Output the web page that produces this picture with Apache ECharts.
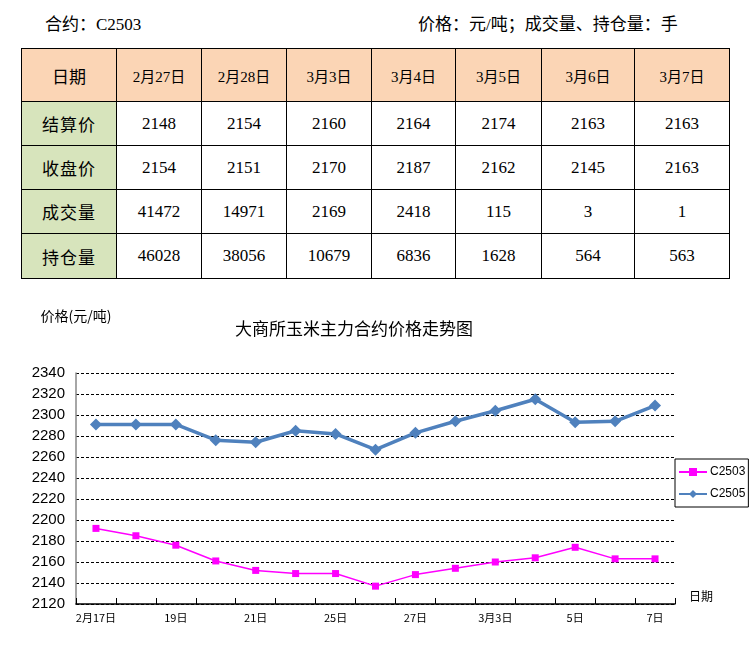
<!DOCTYPE html>
<html>
<head>
<meta charset="utf-8">
<script src="https://cdn.jsdelivr.net/npm/echarts@6/dist/echarts.min.js"></script>
<style>
  html, body { margin: 0; padding: 0; background: #fff; }
  #page { position: relative; width: 753px; height: 663px; overflow: hidden; background: #fff; }
  .hdr { position: absolute; top: 10px; font-family: "Liberation Serif", "Noto Sans CJK SC", serif; font-size: 17px; color: #000; white-space: nowrap; }
  #tbl { position: absolute; left: 21px; top: 48px; border-collapse: collapse; table-layout: fixed;
         font-family: "Liberation Serif", "Noto Sans CJK SC", serif; color: #000; }
  #tbl td { border: 1.5px solid #000; text-align: center; padding: 0; font-size: 17px; }
  #tbl tr.head td { background: #FBD5B5; font-size: 15px; }
  #tbl td.rowname { background: #D7E4BC; font-size: 17px; letter-spacing: 1px; }
  #chart { position: absolute; left: 0; top: 290px; width: 753px; height: 373px; }
</style>
</head>
<body>
<div id="page">
  <div class="hdr" style="left:45px;">合约：C2503</div>
  <div class="hdr" style="left:418px;">价格：元/吨；成交量、持仓量：手</div>
  <table id="tbl"></table>
  <div id="chart"></div>
</div>
<script>
// ---- table data ----
const tableDates = ['2月27日','2月28日','3月3日','3月4日','3月5日','3月6日','3月7日'];
const rowNames = ['日期','结算价','收盘价','成交量','持仓量'];
const settlePrice = [2148, 2154, 2160, 2164, 2174, 2163, 2163];
const closePrice = [2154, 2151, 2170, 2187, 2162, 2145, 2163];
const volume = [41472, 14971, 2169, 2418, 115, 3, 1];
const openInterest = [46028, 38056, 10679, 6836, 1628, 564, 563];

// ---- chart data ----
const categories = ['2月17日','18日','19日','20日','21日','24日','25日','26日','27日','28日','3月3日','4日','5日','6日','7日'];
const c2503 = [2192, 2185, 2176, 2161, 2152, 2149, 2149, 2137, 2148, 2154, 2160, 2164, 2174, 2163, 2163];
const c2505 = [2291, 2291, 2291, 2276, 2274, 2285, 2282, 2267, 2283, 2294, 2304, 2315, 2293, 2294, 2309];
const yTicks = { min: 2120, max: 2340, interval: 20 };

// ---- build table ----
(function () {
  const colW = [95, 85, 85, 85, 84, 86, 93, 95];
  const rowH = [53, 44, 44, 44, 45];
  const rows = [tableDates, settlePrice, closePrice, volume, openInterest];
  const tbl = document.getElementById('tbl');
  const cg = document.createElement('colgroup');
  colW.forEach(w => { const c = document.createElement('col'); c.style.width = w + 'px'; cg.appendChild(c); });
  tbl.appendChild(cg);
  rows.forEach((vals, r) => {
    const tr = document.createElement('tr');
    tr.style.height = rowH[r] + 'px';
    if (r === 0) tr.className = 'head';
    const th = document.createElement('td');
    th.textContent = rowNames[r];
    if (r > 0) th.className = 'rowname';
    else th.style.fontSize = '17px';
    tr.appendChild(th);
    vals.forEach(v => { const td = document.createElement('td'); td.textContent = v; tr.appendChild(td); });
    tbl.appendChild(tr);
  });
})();

// ---- chart ----
const chart = echarts.init(document.getElementById('chart'), null, { renderer: 'canvas' });
chart.setOption({
  animation: false,
  backgroundColor: '#fff',
  title: {
    text: '大商所玉米主力合约价格走势图',
    left: 230, top: 25,
    textStyle: { fontFamily: 'Noto Sans CJK SC', fontSize: 17, fontWeight: 'normal', color: '#000' }
  },
  legend: {
    orient: 'vertical',
    left: 675, top: 169,
    borderColor: '#000', borderWidth: 1, borderRadius: 0,
    backgroundColor: '#fff',
    padding: [7, 3, 7, 3],
    itemWidth: 28, itemHeight: 10, itemGap: 10,
    textStyle: { fontFamily: 'Liberation Sans', fontSize: 12, color: '#000', padding: [0, 0, 0, -2] },
    data: ['C2503', 'C2505']
  },
  grid: { left: 76, right: 78, top: 83, bottom: 59 },
  xAxis: {
    type: 'category',
    data: categories,
    boundaryGap: true,
    name: '日期',
    nameLocation: 'end',
    nameGap: 14,
    nameTextStyle: { fontFamily: 'Noto Sans CJK SC', fontSize: 12, color: '#000', verticalAlign: 'bottom', padding: [0, 0, 2, 0] },
    axisLine: { lineStyle: { color: '#000', width: 1.5 } },
    axisTick: { show: true, inside: true, length: 6, alignWithLabel: false, interval: 0, lineStyle: { color: '#000' } },
    axisLabel: { interval: 1, fontFamily: 'Noto Sans CJK SC', fontSize: 11, color: '#000', margin: 8 },
    splitLine: { show: false }
  },
  yAxis: {
    type: 'value',
    min: yTicks.min, max: yTicks.max, interval: yTicks.interval,
    name: '价格(元/吨)',
    nameLocation: 'end',
    nameGap: 50,
    nameTextStyle: { fontFamily: 'Noto Sans CJK SC', fontSize: 14, color: '#000', align: 'center' },
    axisLine: { show: true, lineStyle: { color: '#888', width: 1.5 } },
    axisTick: { show: false },
    axisLabel: {
      fontFamily: 'Liberation Sans Narrow, Liberation Sans', fontSize: 15, color: '#000', margin: 11,
      formatter: v => String(v)
    },
    splitLine: { show: true, lineStyle: { color: '#000', type: [3, 2], width: 1 } }
  },
  series: [
    {
      name: 'C2503',
      type: 'line',
      data: c2503,
      symbol: 'rect',
      symbolSize: 7,
      lineStyle: { color: '#FF00FF', width: 1.5 },
      itemStyle: { color: '#FF00FF' },
      z: 3
    },
    {
      name: 'C2505',
      type: 'line',
      data: c2505,
      symbol: 'diamond',
      symbolSize: 12,
      lineStyle: { color: '#4F81BD', width: 3.5 },
      itemStyle: { color: '#4F81BD' },
      z: 4
    }
  ]
});
</script>
</body>
</html>
